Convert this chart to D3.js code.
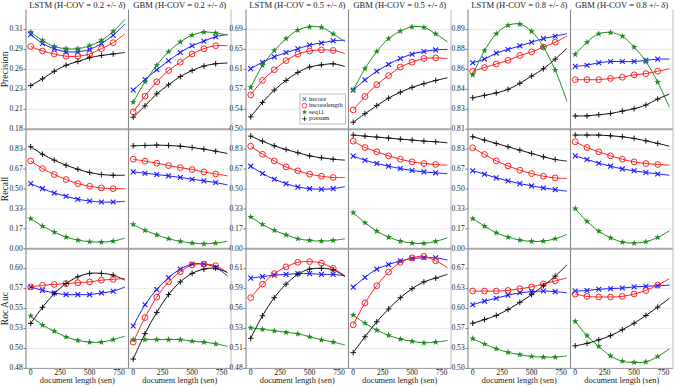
<!DOCTYPE html>
<html>
<head>
<meta charset="utf-8">
<script src="https://cdn.jsdelivr.net/npm/d3@7"></script>
<style>
  body { margin: 0; background: #fff; }
  text { font-family: "Liberation Serif", "DejaVu Serif", serif; fill: #222; }
</style>
</head>
<body>
<script>
"use strict";

let width = 675;
let height = 386;

// document length (sen); markers drawn at the first 8, the fitted line runs to 800
let lengths = [0, 100, 200, 300, 400, 500, 600, 700, 800];
let markerCount = 8;

let seriesNames = ["hscore", "hscorelength", "seq11", "possum"];
let metrics = ["Precision", "Recall", "Roc Auc"];
let panelTitles = ["LSTM (H-COV = 0.2 +/- ", "GBM (H-COV = 0.2 +/- ",
                   "LSTM (H-COV = 0.5 +/- ", "GBM (H-COV = 0.5 +/- ",
                   "LSTM (H-COV = 0.8 +/- ", "GBM (H-COV = 0.8 +/- "];
let xTickValues = [0, 250, 500, 750];

// y ranges for each row (metric) and each pair of panels (H-COV level)
let yDomains = [
  [[0.18, 0.339], [0.50, 0.7232], [0.81, 0.909]],
  [[0, 1], [0, 1], [0, 1]],
  [[0.48, 0.621], [0.48, 0.639], [0.50, 0.701]]
];
let yTickLabels = [
  [["0.18", "0.21", "0.23", "0.26", "0.29", "0.31"],
   ["0.50", "0.54", "0.57", "0.61", "0.65", "0.69"],
   ["0.81", "0.83", "0.84", "0.86", "0.88", "0.89"]],
  [["0.00", "0.17", "0.33", "0.50", "0.67", "0.83"],
   ["0.00", "0.17", "0.33", "0.50", "0.67", "0.83"],
   ["0.00", "0.17", "0.33", "0.50", "0.67", "0.83"]],
  [["0.48", "0.50", "0.53", "0.55", "0.57", "0.60"],
   ["0.48", "0.51", "0.53", "0.56", "0.59", "0.61"],
   ["0.50", "0.53", "0.57", "0.60", "0.63", "0.67"]]
];

// [panel][hscore, hscorelength, seq11, possum]
let precision = [
  [ // LSTM 0.2
    [0.306, 0.294, 0.287, 0.283, 0.283, 0.286, 0.294, 0.305, 0.320],
    [0.290, 0.284, 0.280, 0.277, 0.277, 0.280, 0.287, 0.295, 0.307],
    [0.309, 0.298, 0.290, 0.287, 0.287, 0.291, 0.298, 0.310, 0.326],
    [0.238, 0.247, 0.257, 0.265, 0.270, 0.275, 0.278, 0.280, 0.282]
  ],
  [ // GBM 0.2
    [0.232, 0.246, 0.259, 0.271, 0.282, 0.291, 0.297, 0.303, 0.306],
    [0.203, 0.224, 0.243, 0.258, 0.269, 0.280, 0.287, 0.291, 0.291],
    [0.216, 0.243, 0.265, 0.283, 0.296, 0.305, 0.309, 0.308, 0.305],
    [0.196, 0.211, 0.227, 0.239, 0.250, 0.258, 0.264, 0.267, 0.268]
  ],
  [ // LSTM 0.5
    [0.613, 0.625, 0.635, 0.643, 0.650, 0.657, 0.661, 0.665, 0.666],
    [0.564, 0.591, 0.611, 0.628, 0.640, 0.646, 0.648, 0.647, 0.641],
    [0.578, 0.619, 0.647, 0.669, 0.685, 0.691, 0.690, 0.678, 0.663],
    [0.523, 0.550, 0.573, 0.591, 0.606, 0.616, 0.620, 0.622, 0.617]
  ],
  [ // GBM 0.5
    [0.573, 0.592, 0.608, 0.621, 0.632, 0.640, 0.645, 0.648, 0.649],
    [0.536, 0.561, 0.583, 0.600, 0.616, 0.625, 0.632, 0.633, 0.632],
    [0.573, 0.613, 0.645, 0.669, 0.683, 0.691, 0.690, 0.678, 0.663],
    [0.513, 0.529, 0.544, 0.558, 0.569, 0.578, 0.585, 0.591, 0.596]
  ],
  [ // LSTM 0.8
    [0.865, 0.868, 0.873, 0.876, 0.879, 0.882, 0.885, 0.887, 0.889],
    [0.858, 0.861, 0.864, 0.867, 0.871, 0.874, 0.878, 0.882, 0.887],
    [0.855, 0.875, 0.889, 0.896, 0.897, 0.891, 0.878, 0.859, 0.833],
    [0.836, 0.838, 0.840, 0.843, 0.848, 0.854, 0.860, 0.868, 0.877]
  ],
  [ // GBM 0.8
    [0.862, 0.863, 0.865, 0.866, 0.866, 0.866, 0.867, 0.868, 0.868],
    [0.851, 0.851, 0.851, 0.852, 0.853, 0.855, 0.856, 0.858, 0.860],
    [0.872, 0.882, 0.889, 0.890, 0.887, 0.878, 0.866, 0.849, 0.828],
    [0.821, 0.821, 0.822, 0.823, 0.825, 0.827, 0.830, 0.835, 0.839]
  ]
];

let recall = [
  [
    [0.545, 0.503, 0.467, 0.439, 0.414, 0.400, 0.391, 0.391, 0.397],
    [0.735, 0.671, 0.621, 0.579, 0.545, 0.523, 0.509, 0.503, 0.503],
    [0.252, 0.190, 0.140, 0.098, 0.073, 0.059, 0.056, 0.064, 0.090],
    [0.853, 0.791, 0.741, 0.699, 0.665, 0.638, 0.621, 0.615, 0.615]
  ],
  [
    [0.643, 0.632, 0.621, 0.610, 0.596, 0.582, 0.568, 0.554, 0.534],
    [0.749, 0.733, 0.716, 0.696, 0.679, 0.663, 0.643, 0.626, 0.610],
    [0.204, 0.154, 0.117, 0.084, 0.062, 0.048, 0.042, 0.048, 0.062],
    [0.861, 0.864, 0.867, 0.864, 0.858, 0.847, 0.833, 0.816, 0.797]
  ],
  [
    [0.691, 0.629, 0.582, 0.545, 0.517, 0.503, 0.498, 0.503, 0.520],
    [0.858, 0.791, 0.735, 0.685, 0.652, 0.624, 0.607, 0.596, 0.596],
    [0.266, 0.204, 0.154, 0.117, 0.084, 0.070, 0.064, 0.070, 0.084],
    [0.942, 0.900, 0.861, 0.830, 0.803, 0.777, 0.761, 0.749, 0.741]
  ],
  [
    [0.775, 0.741, 0.713, 0.691, 0.671, 0.654, 0.643, 0.635, 0.629],
    [0.900, 0.847, 0.811, 0.777, 0.749, 0.727, 0.713, 0.705, 0.699],
    [0.302, 0.218, 0.148, 0.098, 0.064, 0.048, 0.045, 0.062, 0.092],
    [0.951, 0.942, 0.934, 0.926, 0.917, 0.909, 0.900, 0.895, 0.886]
  ],
  [
    [0.652, 0.624, 0.593, 0.568, 0.545, 0.526, 0.509, 0.495, 0.481],
    [0.844, 0.789, 0.735, 0.693, 0.657, 0.629, 0.607, 0.593, 0.587],
    [0.252, 0.190, 0.134, 0.098, 0.073, 0.062, 0.064, 0.084, 0.120],
    [0.937, 0.909, 0.881, 0.853, 0.825, 0.797, 0.769, 0.747, 0.733]
  ],
  [
    [0.777, 0.747, 0.716, 0.691, 0.668, 0.652, 0.638, 0.626, 0.615],
    [0.895, 0.847, 0.811, 0.777, 0.749, 0.727, 0.713, 0.705, 0.699],
    [0.336, 0.229, 0.148, 0.092, 0.056, 0.048, 0.059, 0.095, 0.151],
    [0.951, 0.951, 0.951, 0.945, 0.937, 0.923, 0.903, 0.881, 0.858]
  ]
];

let rocAuc = [
  [
    [0.576, 0.572, 0.569, 0.567, 0.567, 0.567, 0.569, 0.571, 0.576],
    [0.576, 0.578, 0.579, 0.580, 0.581, 0.582, 0.584, 0.585, 0.586],
    [0.542, 0.531, 0.524, 0.517, 0.513, 0.511, 0.511, 0.514, 0.518],
    [0.533, 0.552, 0.568, 0.580, 0.588, 0.592, 0.592, 0.590, 0.584]
  ],
  [
    [0.530, 0.555, 0.573, 0.587, 0.597, 0.603, 0.603, 0.599, 0.589],
    [0.511, 0.540, 0.564, 0.582, 0.594, 0.602, 0.603, 0.601, 0.593],
    [0.514, 0.514, 0.514, 0.514, 0.514, 0.512, 0.511, 0.509, 0.506],
    [0.491, 0.521, 0.546, 0.567, 0.582, 0.592, 0.597, 0.598, 0.593]
  ],
  [
    [0.600, 0.602, 0.604, 0.605, 0.606, 0.606, 0.605, 0.605, 0.603],
    [0.574, 0.592, 0.606, 0.615, 0.621, 0.622, 0.620, 0.613, 0.603],
    [0.534, 0.532, 0.530, 0.528, 0.526, 0.522, 0.518, 0.515, 0.511],
    [0.520, 0.550, 0.574, 0.592, 0.605, 0.612, 0.613, 0.611, 0.602]
  ],
  [
    [0.588, 0.601, 0.612, 0.618, 0.623, 0.626, 0.627, 0.627, 0.624],
    [0.538, 0.567, 0.590, 0.608, 0.621, 0.627, 0.629, 0.623, 0.614],
    [0.551, 0.540, 0.531, 0.524, 0.519, 0.516, 0.514, 0.515, 0.517],
    [0.501, 0.522, 0.542, 0.559, 0.574, 0.586, 0.595, 0.600, 0.605]
  ],
  [
    [0.607, 0.613, 0.618, 0.623, 0.627, 0.629, 0.630, 0.629, 0.627],
    [0.630, 0.630, 0.630, 0.631, 0.634, 0.637, 0.642, 0.647, 0.652],
    [0.550, 0.541, 0.533, 0.527, 0.523, 0.520, 0.519, 0.519, 0.521],
    [0.576, 0.582, 0.589, 0.599, 0.611, 0.624, 0.639, 0.655, 0.674]
  ],
  [
    [0.630, 0.631, 0.633, 0.634, 0.635, 0.637, 0.638, 0.639, 0.640],
    [0.625, 0.621, 0.620, 0.620, 0.621, 0.625, 0.631, 0.640, 0.651],
    [0.579, 0.555, 0.537, 0.521, 0.512, 0.510, 0.511, 0.520, 0.533],
    [0.538, 0.542, 0.548, 0.555, 0.565, 0.576, 0.589, 0.603, 0.618]
  ]
];

let metricData = [precision, recall, rocAuc];

// styling
let colors = ["#1a1aff", "#ff2020", "#1f8a1f", "#111111"];
let pairLeft = [26, 246, 468];
let panelW = 102.5;
let rowTop = 9.6;
let rowH = 119.6;

let svg = d3.select("body").append("svg").attr("width", width).attr("height", height);

let x = d3.scaleLinear().domain([-40, 830]).range([0, panelW]);

let lineGen = d3.line()
  .x((d, i) => x(lengths[i]))
  .curve(d3.curveCatmullRom.alpha(0.5));

function drawMarker(sel, s) {
  if (s === 0) {
    sel.append("path").attr("d", "M-2.4,-2.4L2.4,2.4M-2.4,2.4L2.4,-2.4")
      .attr("stroke", colors[0]).attr("stroke-width", 1.1).attr("fill", "none");
  } else if (s === 1) {
    sel.append("circle").attr("r", 2.9)
      .attr("stroke", colors[1]).attr("stroke-width", 1).attr("fill", "none");
  } else if (s === 2) {
    sel.append("path").attr("d", d3.symbol(d3.symbolStar, 14)())
      .attr("fill", colors[2]);
  } else {
    sel.append("path").attr("d", "M-2.8,0H2.8M0,-2.8V2.8")
      .attr("stroke", colors[3]).attr("stroke-width", 1).attr("fill", "none");
  }
}

metrics.forEach(function (metric, r) {
  let top = rowTop + r * rowH;

  // metric label on the left
  svg.append("text")
    .attr("transform", "translate(5.5," + (top + rowH / 2) + ") rotate(-90)")
    .attr("text-anchor", "middle")
    .attr("dominant-baseline", "middle")
    .style("font-size", "9.6px")
    .text(metric);

  pairLeft.forEach(function (left, p) {
    let dom = yDomains[r][p];
    let y = d3.scaleLinear().domain(dom).range([top + rowH, top]);
    let tickVals = yTickLabels[r][p].map((lab, k) => dom[0] + k * (dom[1] - dom[0]) / 6);

    // y ticks + labels
    let yAxis = svg.append("g").attr("transform", "translate(" + left + ",0)");
    tickVals.forEach(function (tv, k) {
      yAxis.append("line").attr("x1", -2.5).attr("x2", 0)
        .attr("y1", y(tv)).attr("y2", y(tv)).attr("stroke", "#555").attr("stroke-width", 0.8);
      yAxis.append("text").attr("x", -3.3).attr("y", y(tv))
        .attr("text-anchor", "end").attr("dominant-baseline", "middle")
        .style("font-size", "7.6px")
        .text(yTickLabels[r][p][k]);
    });

    for (let h = 0; h < 2; h++) {
      let c = p * 2 + h;
      let g = svg.append("g").attr("transform", "translate(" + (left + h * panelW) + ",0)");

      // grid
      g.selectAll(".grid").data(tickVals.slice(1))
        .enter().append("line")
        .attr("x1", 0).attr("x2", panelW)
        .attr("y1", d => y(d)).attr("y2", d => y(d))
        .attr("stroke", "#e4e4e4").attr("stroke-width", 0.8);

      // lines
      metricData[r][c].forEach(function (vals, s) {
        g.append("path")
          .attr("d", lineGen.y(d => y(d))(vals))
          .attr("fill", "none")
          .attr("stroke", colors[s])
          .attr("stroke-width", 1);
      });

      // markers
      metricData[r][c].forEach(function (vals, s) {
        vals.slice(0, markerCount).forEach(function (v, i) {
          let m = g.append("g").attr("transform", "translate(" + x(lengths[i]) + "," + y(v) + ")");
          drawMarker(m, s);
        });
      });

      // left divider / axis line
      g.append("line").attr("x1", 0).attr("x2", 0)
        .attr("y1", top).attr("y2", top + rowH)
        .attr("stroke", "#888").attr("stroke-width", 1.1);
      if (h === 1) {
        g.append("line").attr("x1", panelW).attr("x2", panelW)
          .attr("y1", top).attr("y2", top + rowH)
          .attr("stroke", "#bbb").attr("stroke-width", 1);
      }

      // titles on the first row
      if (r === 0) {
        let t = g.append("text").attr("x", panelW / 2).attr("y", 5.5)
          .attr("text-anchor", "middle").attr("dominant-baseline", "middle")
          .style("font-size", "8.6px");
        t.append("tspan").text(panelTitles[c]);
        t.append("tspan").style("font-style", "italic").text("\u03b4");
        t.append("tspan").text(")");
      }

      // x axis on the last row
      if (r === metrics.length - 1) {
        xTickValues.forEach(function (tv) {
          g.append("line").attr("x1", x(tv)).attr("x2", x(tv))
            .attr("y1", top + rowH).attr("y2", top + rowH + 2)
            .attr("stroke", "#555").attr("stroke-width", 0.8);
          g.append("text").attr("x", x(tv)).attr("y", top + rowH + 5)
            .attr("text-anchor", "middle").attr("dominant-baseline", "middle")
            .style("font-size", "7.8px")
            .text(tv);
        });
        g.append("text").attr("x", panelW / 2).attr("y", top + rowH + 13)
          .attr("text-anchor", "middle").attr("dominant-baseline", "middle")
          .style("font-size", "8.4px")
          .text("document length (sen)");
      }
    }

    // row separators across the pair
    svg.append("line")
      .attr("x1", left).attr("x2", left + 2 * panelW)
      .attr("y1", top + rowH).attr("y2", top + rowH)
      .attr("stroke", r === metrics.length - 1 ? "#999" : "#a8a8a8")
      .attr("stroke-width", r === metrics.length - 1 ? 1 : 2);
  });
});

// legend inside the LSTM 0.5 precision panel
let legend = svg.append("g").attr("transform", "translate(300,94)");
legend.append("rect").attr("width", 45.5).attr("height", 30)
  .attr("fill", "#fff").attr("stroke", "#aaa").attr("stroke-width", 0.8);
seriesNames.forEach(function (name, s) {
  let row = legend.append("g").attr("transform", "translate(0," + (5 + s * 6.6) + ")");
  let m = row.append("g").attr("transform", "translate(4.5,0) scale(0.8)");
  drawMarker(m, s);
  row.append("text").attr("x", 9).attr("y", 0)
    .attr("dominant-baseline", "middle")
    .style("font-size", "6.6px")
    .text(name);
});
</script>
</body>
</html>
